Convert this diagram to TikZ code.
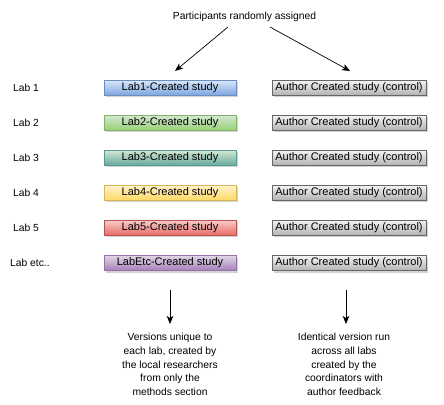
\documentclass[tikz,border=0pt]{standalone}
\usepackage{fontspec}
\setmainfont{Liberation Sans}
\usetikzlibrary{arrows.meta,shadows}
\definecolor{bT}{HTML}{DAE8FC}\definecolor{bB}{HTML}{7EA6E0}\definecolor{bD}{HTML}{6C8EBF}
\definecolor{gT}{HTML}{D5E8D4}\definecolor{gB}{HTML}{97D077}\definecolor{gD}{HTML}{82B366}
\definecolor{tT}{HTML}{D5E8D4}\definecolor{tB}{HTML}{67AB9F}\definecolor{tD}{HTML}{5A9A8E}
\definecolor{yT}{HTML}{FFF2CC}\definecolor{yB}{HTML}{FFD966}\definecolor{yD}{HTML}{D6B656}
\definecolor{rT}{HTML}{F8CECC}\definecolor{rB}{HTML}{EA6B66}\definecolor{rD}{HTML}{B85450}
\definecolor{pT}{HTML}{E1D5E7}\definecolor{pB}{HTML}{A680B8}\definecolor{pD}{HTML}{9673A6}
\definecolor{kT}{HTML}{F5F5F5}\definecolor{kB}{HTML}{B3B3B3}\definecolor{kD}{HTML}{666666}
\tikzset{
  lbl/.style={font=\fontsize{10.3}{13.75}\selectfont, inner sep=0pt},
  studybox/.style n args={3}{top color=#1, bottom color=#2, draw=#3, line width=0.5pt,
    minimum height=15pt, inner sep=0pt, font=\fontsize{11}{13}\selectfont,
    drop shadow={shadow xshift=2pt, shadow yshift=-2pt, opacity=0.35, fill=gray}},
  leftbox/.style={minimum width=132pt},
  rightbox/.style={minimum width=154pt},
  arr/.style={-{Stealth[length=8pt,width=6.5pt,inset=2pt]}, line width=0.7pt},
}
\begin{document}
\begin{tikzpicture}[x=1pt,y=-1pt]
\useasboundingbox (0,0) rectangle (444,404);
\node[lbl] (title) at (244.5,17) {Participants randomly assigned};
\coordinate (t1) at (228,27);
\coordinate (t2) at (270,27);
\coordinate (e1) at (175,71);
\coordinate (e2) at (350,71);
\draw[arr] (t1) -- (e1);
\draw[arr] (t2) -- (e2);

\node[lbl, anchor=west] (lab1) at (13,87.5) {Lab 1};
\node[lbl, anchor=west] (lab2) at (13,122.5) {Lab 2};
\node[lbl, anchor=west] (lab3) at (13,157.5) {Lab 3};
\node[lbl, anchor=west] (lab4) at (13,192.5) {Lab 4};
\node[lbl, anchor=west] (lab5) at (13,227.5) {Lab 5};
\node[lbl, anchor=west] (lab6) at (10,263) {Lab etc..};

\node[studybox={bT}{bB}{bD}, leftbox] (L1) at (170,87.5) {Lab1-Created study};
\node[studybox={gT}{gB}{gD}, leftbox] (L2) at (170,122.5) {Lab2-Created study};
\node[studybox={tT}{tB}{tD}, leftbox] (L3) at (170,157.5) {Lab3-Created study};
\node[studybox={yT}{yB}{yD}, leftbox] (L4) at (170,192.5) {Lab4-Created study};
\node[studybox={rT}{rB}{rD}, leftbox] (L5) at (170,227.5) {Lab5-Created study};
\node[studybox={pT}{pB}{pD}, leftbox] (L6) at (170,263) {LabEtc-Created study};

\foreach \i/\y in {1/87.5,2/122.5,3/157.5,4/192.5,5/227.5,6/263}
  \node[studybox={kT}{kB}{kD}, rightbox] (R\i) at (349,\y) {Author Created study (control)};

\coordinate (b1s) at (170,290);
\coordinate (b1e) at (170,324);
\coordinate (b2s) at (346,290);
\coordinate (b2e) at (346,324);
\draw[arr] (b1s) -- (b1e);
\draw[arr] (b2s) -- (b2e);

\node[lbl, align=center, anchor=north] (lt) at (170,333) {Versions unique to\\each lab, created by\\the local researchers\\from only the\\methods section};
\node[lbl, align=center, anchor=north] (rt) at (344,333) {Identical version run\\across all labs\\created by the\\coordinators with\\author feedback};
\end{tikzpicture}
\end{document}
